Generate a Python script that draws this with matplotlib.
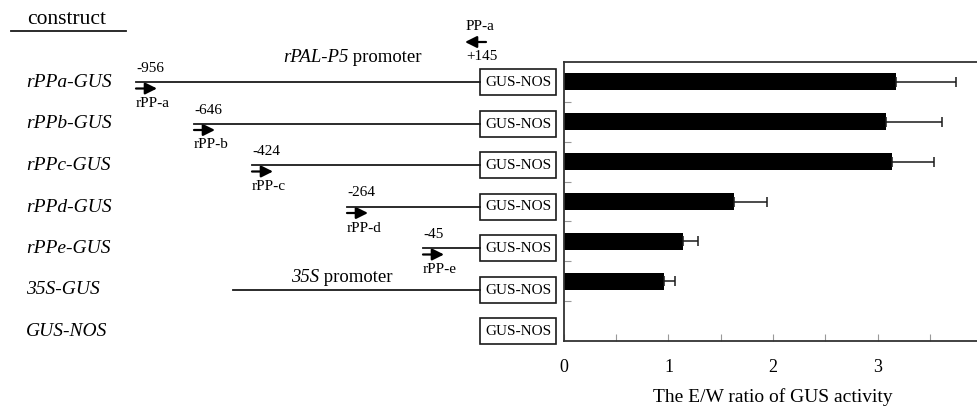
import matplotlib
matplotlib.use('Agg')
import matplotlib.pyplot as plt
from matplotlib.patches import Rectangle, FancyArrowPatch

# data
constructs = ['rPPa-GUS', 'rPPb-GUS', 'rPPc-GUS', 'rPPd-GUS', 'rPPe-GUS', '35S-GUS', 'GUS-NOS']
ratio = [3.18, 3.08, 3.14, 1.63, 1.14, 0.96, 0.0]
ratio_err = [0.57, 0.54, 0.40, 0.31, 0.14, 0.10, 0.0]
deletion_ends = ['-956', '-646', '-424', '-264', '-45']
primers = ['rPP-a', 'rPP-b', 'rPP-c', 'rPP-d', 'rPP-e']
xticks = [0, 1, 2, 3, 4]

plt.rcParams['font.family'] = 'Liberation Serif'

fig = plt.figure(figsize=(9.78, 4.09), dpi=100)

# schematic on the left, drawn in pixel coordinates
sk = fig.add_axes([0, 0, 1, 1])
sk.set_xlim(0, 978)
sk.set_ylim(409, 0)
sk.axis('off')

row_y = [82 + 41.5 * i for i in range(len(constructs))]
line_x = [136, 194, 252, 347, 423, 233]   # promoter start for each construct (schematic)
box_x, box_w, box_h = 480, 76, 26
ink = '#1a1a1a'


def primer_arrow(x0, x1, y):
    sk.add_patch(FancyArrowPatch((x0, y), (x1, y),
                                 arrowstyle='-|>,head_width=0.35,head_length=0.7',
                                 mutation_scale=10, lw=1.6, color='black',
                                 shrinkA=0, shrinkB=0))


def promoter_name(x, y, it_part, rest):
    # italic gene name followed by plain " promoter"
    t = sk.text(x, y, it_part, fontsize=13.5, style='italic', ha='left', va='center')
    sk.annotate(rest, xy=(1, 0), xycoords=t, fontsize=13.5, ha='left', va='bottom')


sk.text(27, 19, 'construct', fontsize=15.5, ha='left', va='center')
sk.plot([11, 126], [31, 31], color=ink, lw=1.3)

for i, name in enumerate(constructs):
    y = row_y[i]
    sk.text(26, y + 0.5, name, fontsize=14, style='italic', ha='left', va='center')
    sk.add_patch(Rectangle((box_x, y - box_h / 2), box_w, box_h,
                           facecolor='white', edgecolor=ink, lw=1.2))
    sk.text(box_x + box_w / 2, y + 0.5, 'GUS-NOS', fontsize=11, ha='center', va='center')
    if i < len(line_x):
        sk.plot([line_x[i], box_x], [y, y], color=ink, lw=1.3)

for i, (pos, pr) in enumerate(zip(deletion_ends, primers)):
    x0, y = line_x[i], row_y[i]
    sk.text(x0, y - 13.5, pos, fontsize=11, ha='left', va='center')
    primer_arrow(x0, x0 + 21, y + 6.5)
    sk.text(x0, y + 21.5, pr, fontsize=11, ha='left', va='center')

# reverse primer and promoter names
sk.text(466, 27, 'PP-a', fontsize=11, ha='left', va='center')
primer_arrow(486, 465, 42)
sk.text(466, 57, '+145', fontsize=11, ha='left', va='center')
promoter_name(283, 57, 'rPAL-P5', ' promoter')
promoter_name(291, 277, '35S', ' promoter')

# bar chart on the right
ax = fig.add_axes([564 / 978, 68 / 409, 418 / 978, 279 / 409])
ypos = list(range(len(constructs)))
ax.barh(ypos, ratio, height=0.43, color='black', zorder=2)
for y, v, e in zip(ypos, ratio, ratio_err):
    if e > 0:
        ax.errorbar(v, y, xerr=[[0], [e]], fmt='none', ecolor=ink,
                    elinewidth=1.1, capsize=3.5, capthick=1.1, zorder=3)

ax.set_xlim(0, 4)
ax.set_ylim(len(constructs) - 0.5, -0.5)
ax.set_xticks(xticks)
ax.set_xticklabels([str(t) for t in xticks], fontsize=13)
ax.set_xticks([0.5, 1.5, 2.5, 3.5], minor=True)
ax.set_yticks([i + 0.5 for i in range(len(constructs) - 1)])
ax.set_yticklabels([])
ax.tick_params(axis='both', which='both', direction='in', length=5, width=0.8,
               color='#999999')
ax.tick_params(axis='x', which='major', pad=13)
ax.set_xlabel('The E/W ratio of GUS activity', fontsize=14, labelpad=9)
for s in ax.spines.values():
    s.set_color('#333333')
    s.set_linewidth(1.3)

fig.savefig('out.png', dpi=100)
